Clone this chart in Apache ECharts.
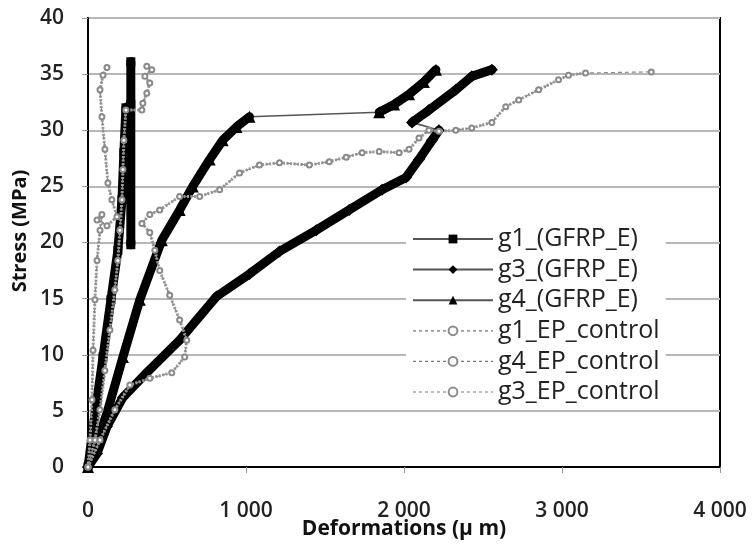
<!DOCTYPE html>
<html>
<head>
<meta charset="utf-8">
<script src="https://cdn.jsdelivr.net/npm/echarts@6/dist/echarts.min.js"></script>
<style>html,body{margin:0;padding:0;background:#fff;}#c{width:753px;height:544px;}</style>
</head>
<body>
<div id="c"></div>
<script>
// x: deformation (µm), y: stress (MPa)
const g1_gfrp = [[0,0],[30,3.3],[57,6],[95,9.8],[145,14.9],[189,19.3],[215,23.8],[227,28],[240,32],[271,32.3],[271,19.8],[271,36.1]];
const g3_gfrp = [[0,0],[57,1.2],[120,3.6],[221,6.2],[372,8.4],[580,11.3],[814,15.2],[1022,17.2],[1212,19.2],[1445,21.1],[1653,22.9],[1861,24.7],[2013,25.8],[2095,27.4],[2177,29.1],[2221,30.0],[2051,30.7],[2158,31.8],[2328,33.6],[2429,34.8],[2556,35.4]];
const g4_gfrp = [[0,0],[120,4.8],[221,9.8],[328,14.9],[467,20.2],[580,22.9],[663,25.0],[770,27.4],[852,29.1],[940,30.3],[1022,31.2],[1843,31.6],[1937,32.3],[2032,33.2],[2126,34.3],[2202,35.4]];
const g1_ep = [[0,0],[44,2.4],[76,5.1],[107,8.6],[139,12.2],[170,15.8],[189,18.4],[202,21.1],[215,23.8],[221,26.5],[227,29.1],[240,31.8],[341,31.8],[347,32.4],[372,33.3],[391,34.2],[360,34.8],[404,35.4],[372,35.7]];
const g4_ep = [[0,0],[13,2.4],[25,6.0],[32,10.4],[44,14.9],[57,18.4],[76,21.1],[88,22.5],[57,22.0],[120,21.5],[183,22.3],[151,23.8],[126,25.3],[107,28.3],[88,31.2],[76,33.6],[95,34.9],[120,35.6]];
const g3_ep = [[0,0],[76,2.4],[170,5.1],[265,7.3],[391,7.9],[530,8.4],[612,9.8],[625,11.3],[580,13.1],[517,15.3],[454,17.5],[423,19.3],[391,20.9],[341,21.7],[391,22.5],[454,22.9],[580,24.1],[707,24.1],[833,24.7],[959,26.2],[1085,26.9],[1212,27.1],[1401,26.9],[1527,27.2],[1634,27.6],[1735,28.0],[1843,28.1],[1969,28.0],[2032,28.3],[2095,29.3],[2158,30.0],[2221,29.9],[2328,30.0],[2429,30.2],[2556,30.7],[2644,32.1],[2726,32.7],[2852,33.6],[2978,34.5],[3041,34.9],[3149,35.1],[3565,35.2]];

const seriesNames = ['g1_(GFRP_E)','g3_(GFRP_E)','g4_(GFRP_E)','g1_EP_control','g4_EP_control','g3_EP_control'];
const xTickLabels = ['0','1 000','2 000','3 000','4 000'];
const yTicks = [0,5,10,15,20,25,30,35,40];
const xTitle = 'Deformations (µ m)';
const yTitle = 'Stress (MPa)';

const FONT = 'Open Sans';
const chart = echarts.init(document.getElementById('c'), null, {renderer:'canvas'});

function band(data, w) {
  return {type:'line', data:data, symbol:'none', silent:true, z:2,
    lineStyle:{color:'#000', width:w || 9, cap:'round', join:'round'}};
}
function gfrp(name, data, symbol, size) {
  return {name:name, type:'line', data:data, symbol:symbol, symbolSize:size, z:1,
    lineStyle:{color:'#555', width:1.6}, itemStyle:{color:'#000'}};
}
function epBand(data) {
  return {type:'line', data:data, symbol:'none', silent:true, z:4,
    lineStyle:{color:'#9a9a9a', width:3, type:[2,1.5]}};
}
function ep(name, data) {
  return {name:name, type:'line', data:data, symbol:'emptyCircle', symbolSize:5, z:5,
    lineStyle:{color:'#8a8a8a', width:1.2, type:[4,3]},
    itemStyle:{color:'#8a8a8a', borderWidth:1.3}};
}

const option = {
  animation:false,
  backgroundColor:'#fff',
  grid:{left:88, right:33, top:18, bottom:77, show:true, borderColor:'#000', borderWidth:2,
    containLabel:false, outerBoundsMode:'none'},
  xAxis:{type:'value', min:0, max:4000, interval:1000,
    axisLine:{show:true, onZero:false, lineStyle:{color:'#000', width:2}},
    axisTick:{show:true, length:6, lineStyle:{color:'#999'}},
    splitLine:{show:false},
    axisLabel:{margin:34, fontSize:21, fontFamily:FONT, fontWeight:600, color:'#222',
      formatter:function(v){return xTickLabels[Math.round(v/1000)];}},
    name:xTitle, nameLocation:'middle', nameGap:52, nameMoveOverlap:false,
    nameTextStyle:{fontSize:21, fontFamily:FONT, fontWeight:'bold', color:'#111'}},
  yAxis:{type:'value', min:yTicks[0], max:yTicks[yTicks.length-1], interval:yTicks[1]-yTicks[0],
    axisLine:{show:true, onZero:false, lineStyle:{color:'#000', width:2}},
    axisTick:{show:true, length:6, lineStyle:{color:'#999'}},
    splitLine:{show:true, lineStyle:{color:'#b8b8b8', width:2}},
    axisLabel:{margin:24, fontSize:21, fontFamily:FONT, fontWeight:600, color:'#222'}},
  graphic:[{type:'text', x:20, y:231, rotation:Math.PI/2,
    style:{text:yTitle, fontSize:20, fontFamily:FONT, fontWeight:'bold', fill:'#111',
      align:'center', verticalAlign:'middle'}}],
  legend:{orient:'vertical', left:406, top:222, itemWidth:80, itemHeight:11, itemGap:4.6,
    padding:[4,6,4,6], backgroundColor:'#fff',
    textStyle:{fontFamily:FONT, fontSize:25, color:'#222', lineHeight:26},
    data:[
      {name:seriesNames[0], lineStyle:{width:2, color:'#555', type:'solid'}},
      {name:seriesNames[1], lineStyle:{width:2, color:'#555', type:'solid'}},
      {name:seriesNames[2], lineStyle:{width:2, color:'#555', type:'solid'}},
      {name:seriesNames[3], lineStyle:{width:1.2, color:'#777', type:[3,3]}},
      {name:seriesNames[4], lineStyle:{width:1.2, color:'#777', type:[3,3]}},
      {name:seriesNames[5], lineStyle:{width:1.2, color:'#777', type:[3,3]}}
    ]},
  series:[
    band(g1_gfrp, 9),
    band(g3_gfrp.slice(0,16)), band(g3_gfrp.slice(16)),
    band(g4_gfrp.slice(0,11)), band(g4_gfrp.slice(11)),
    gfrp(seriesNames[0], g1_gfrp, 'rect', 9),
    gfrp(seriesNames[1], g3_gfrp, 'diamond', 12),
    gfrp(seriesNames[2], g4_gfrp, 'triangle', 12),
    epBand(g1_ep), epBand(g4_ep), epBand(g3_ep.slice(0, g3_ep.length-1)),
    ep(seriesNames[3], g1_ep),
    ep(seriesNames[4], g4_ep),
    ep(seriesNames[5], g3_ep)
  ]
};
chart.setOption(option);
</script>
</body>
</html>
